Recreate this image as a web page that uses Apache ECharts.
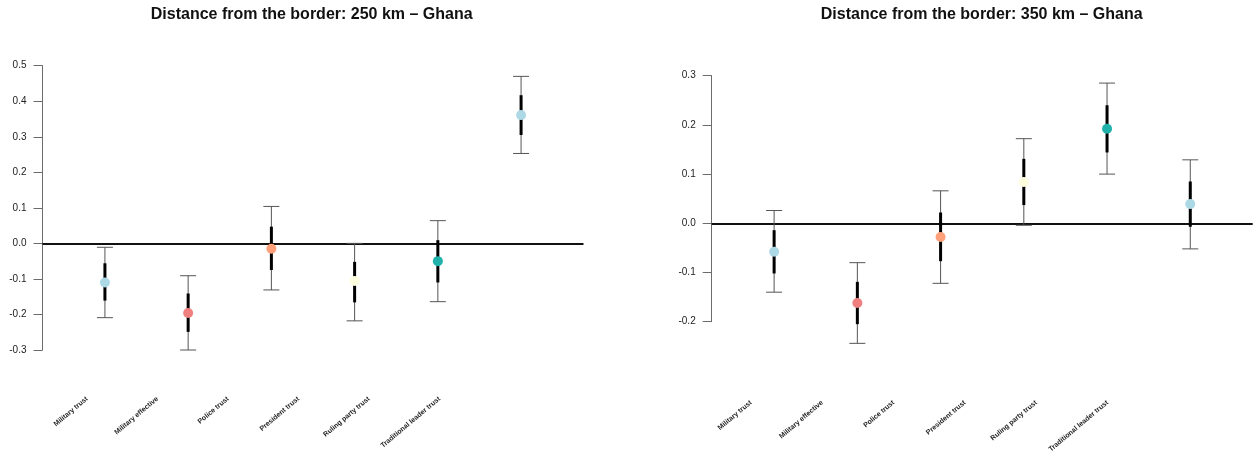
<!DOCTYPE html>
<html>
<head>
<meta charset="utf-8">
<script src="https://cdn.jsdelivr.net/npm/echarts@6/dist/echarts.min.js"></script>
<style>
  html, body { margin: 0; padding: 0; background: #fff; }
  #chart { width: 1255px; height: 455px; }
</style>
</head>
<body>
<div id="chart"></div>
<script>
// Outcome categories
const categories = ['Military trust', 'Military effective', 'Police trust', 'President trust', 'Ruling party trust', 'Traditional leader trust'];
const pointColors = ['#ADD8E6', '#F08080', '#FFA07A', '#FFFFE0', '#20B2AA', '#ADD8E6'];

// 250 km: estimates, outer interval (whiskers) and inner interval (thick bar)
const est250  = [-0.110, -0.196, -0.015, -0.106, -0.050, 0.361];
const lo250   = [-0.209, -0.300, -0.131, -0.218, -0.164, 0.253];
const hi250   = [-0.011, -0.091,  0.104,  0.000,  0.064, 0.470];
const inLo250 = [-0.161, -0.249, -0.075, -0.166, -0.110, 0.305];
const inHi250 = [-0.056, -0.141,  0.047, -0.052,  0.009, 0.417];

// 350 km
const est350  = [-0.058, -0.162, -0.028, 0.084, 0.192,  0.039];
const lo350   = [-0.140, -0.244, -0.122, -0.004, 0.100, -0.052];
const hi350   = [ 0.026, -0.080,  0.066, 0.172, 0.285,  0.129];
const inLo350 = [-0.102, -0.205, -0.077, 0.037, 0.144, -0.007];
const inHi350 = [-0.014, -0.119,  0.022, 0.131, 0.240,  0.085];

// y-axis tick ranges
const yTicks250 = { min: -0.3, max: 0.5, step: 0.1 };
const yTicks350 = { min: -0.2, max: 0.3, step: 0.1 };

const FONT = 'Liberation Sans, Arial, Helvetica, sans-serif';

function valueAxisY(gridIndex, t) {
  return {
    type: 'value', gridIndex: gridIndex,
    min: t.min, max: t.max, interval: t.step,
    axisLine: { show: true, lineStyle: { color: '#6b6b6b', width: 1 } },
    axisTick: { show: true, length: 9, lineStyle: { color: '#6b6b6b', width: 1 } },
    axisLabel: { margin: 16, fontSize: 10, color: '#222', fontFamily: FONT,
                 formatter: v => (Math.round(v * 10) / 10).toFixed(1) },
    splitLine: { show: false }
  };
}

function positionAxisX(gridIndex) {
  return { type: 'value', gridIndex: gridIndex, min: 0.25, max: 6.75, show: false };
}

function labelAxisX(gridIndex) {
  return {
    type: 'category', gridIndex: gridIndex, data: categories, boundaryGap: true,
    axisLine: { show: false }, axisTick: { show: false }, splitLine: { show: false },
    axisLabel: { rotate: 40, margin: 8, interval: 0, fontSize: 7, fontWeight: 'bold',
                 color: '#222', fontFamily: FONT }
  };
}

function errorBars(axisIdx, lo, hi, inLo, inHi) {
  return {
    type: 'custom', xAxisIndex: axisIdx, yAxisIndex: axisIdx, clip: false, silent: true, z: 3,
    encode: { x: 0, y: [1, 2] },
    data: categories.map((c, i) => [i + 1, lo[i], hi[i], inLo[i], inHi[i]]),
    renderItem: function (params, api) {
      const x = api.value(0);
      const pLo = api.coord([x, api.value(1)]);
      const pHi = api.coord([x, api.value(2)]);
      const qLo = api.coord([x, api.value(3)]);
      const qHi = api.coord([x, api.value(4)]);
      const half = 8;
      const thin = { stroke: '#555', lineWidth: 1 };
      return {
        type: 'group',
        children: [
          { type: 'line', shape: { x1: pLo[0], y1: pLo[1], x2: pHi[0], y2: pHi[1] }, style: thin },
          { type: 'line', shape: { x1: pLo[0] - half, y1: pLo[1], x2: pLo[0] + half, y2: pLo[1] }, style: thin },
          { type: 'line', shape: { x1: pHi[0] - half, y1: pHi[1], x2: pHi[0] + half, y2: pHi[1] }, style: thin },
          { type: 'line', shape: { x1: qLo[0], y1: qLo[1], x2: qHi[0], y2: qHi[1] },
            style: { stroke: '#000', lineWidth: 3 } }
        ]
      };
    }
  };
}

function points(axisIdx, est) {
  return {
    type: 'scatter', xAxisIndex: axisIdx, yAxisIndex: axisIdx, symbolSize: 10, z: 5,
    data: est.map((v, i) => ({ value: [i + 1, v], itemStyle: { color: pointColors[i], opacity: 1 } })),
    markLine: {
      silent: true, symbol: ['none', 'none'], label: { show: false },
      lineStyle: { color: '#111', width: 2, type: 'solid' },
      data: [{ yAxis: 0 }], z: 2
    }
  };
}

const chart = echarts.init(document.getElementById('chart'), null, { renderer: 'canvas' });
chart.setOption({
  animation: false,
  backgroundColor: '#fff',
  graphic: [
    { type: 'text', x: 311.7, y: 15, style: { text: 'Distance from the border: 250 km – Ghana',
      textAlign: 'center', textVerticalAlign: 'middle', font: 'bold 16px ' + FONT, fill: '#111' } },
    { type: 'text', x: 981.7, y: 15, style: { text: 'Distance from the border: 350 km – Ghana',
      textAlign: 'center', textVerticalAlign: 'middle', font: 'bold 16px ' + FONT, fill: '#111' } }
  ],
  grid: [
    { left: 42.5, top: 65.7, width: 541, height: 284.3 },
    { left: 711.7, top: 75.7, width: 541, height: 246 },
    { left: 51.75, top: 300, width: 423, height: 90 },
    { left: 715.35, top: 300, width: 427.8, height: 97 }
  ],
  xAxis: [positionAxisX(0), positionAxisX(1), labelAxisX(2), labelAxisX(3)],
  yAxis: [
    valueAxisY(0, yTicks250),
    valueAxisY(1, yTicks350),
    { type: 'value', gridIndex: 2, show: false },
    { type: 'value', gridIndex: 3, show: false }
  ],
  series: [
    errorBars(0, lo250, hi250, inLo250, inHi250),
    points(0, est250),
    errorBars(1, lo350, hi350, inLo350, inHi350),
    points(1, est350)
  ]
});
</script>
</body>
</html>
